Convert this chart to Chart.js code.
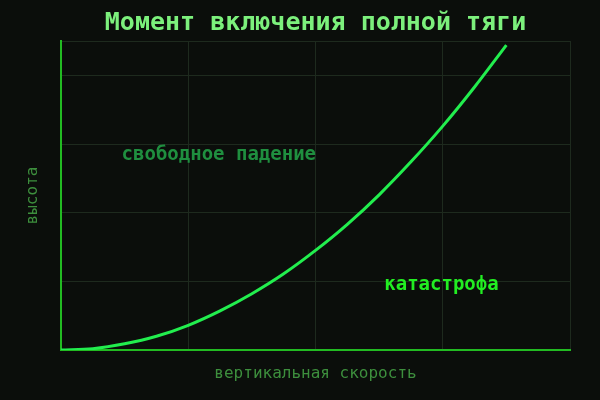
<!DOCTYPE html>
<html>
<head>
<meta charset="utf-8">
<script src="https://cdn.jsdelivr.net/npm/chart.js@4"></script>
<style>
  html, body { margin: 0; padding: 0; background: #0b0e0b; }
  #wrap { width: 600px; height: 400px; }
</style>
</head>
<body>
<div id="wrap"><canvas id="chart" width="600" height="400"></canvas></div>
<script>
// скорость (условные единицы) и высота
const speed  = [0, 0.25, 0.5, 0.75, 1, 1.25, 1.5, 1.75, 2, 2.25, 2.5, 2.75, 3, 3.25, 3.5];
const height = [0, 0.02, 0.09, 0.20, 0.36, 0.57, 0.82, 1.11, 1.45, 1.83, 2.26, 2.74, 3.26, 3.83, 4.44];

// подписи зон
const zoneLabels = ["свободное падение", "катастрофа"];
const zoneX = [1.24, 2.99];
const zoneY = [2.84, 0.95];
const zoneColors = ["#1f8f3f", "#22ee22"];

const mono = "'DejaVu Sans Mono', 'Liberation Mono', monospace";

const zonePlugin = {
  id: "zones",
  afterDatasetsDraw(chart) {
    const ctx = chart.ctx;
    const xs = chart.scales.x, ys = chart.scales.y;
    ctx.save();
    ctx.font = "bold 19px " + mono;
    ctx.textAlign = "center";
    ctx.textBaseline = "middle";
    for (let i = 0; i < zoneLabels.length; i++) {
      ctx.fillStyle = zoneColors[i];
      ctx.fillText(zoneLabels[i], xs.getPixelForValue(zoneX[i]), ys.getPixelForValue(zoneY[i]));
    }
    ctx.restore();
  }
};

const bgPlugin = {
  id: "bg",
  beforeDraw(chart) {
    const ctx = chart.ctx;
    ctx.save();
    ctx.fillStyle = "#0b0e0b";
    ctx.fillRect(0, 0, chart.width, chart.height);
    ctx.restore();
  }
};

const points = speed.map((v, i) => ({ x: v, y: height[i] }));

new Chart(document.getElementById("chart"), {
  type: "line",
  data: {
    datasets: [{
      data: points,
      borderColor: "#22ee4e",
      borderWidth: 3,
      pointRadius: 0,
      cubicInterpolationMode: "monotone",
      fill: false
    }]
  },
  options: {
    responsive: false,
    animation: false,
    layout: { padding: { left: 0, right: 30, top: 0, bottom: 0 } },
    plugins: {
      legend: { display: false },
      tooltip: { enabled: false },
      title: {
        display: true,
        text: "Момент включения полной тяги",
        color: "#7cf07c",
        fullSize: false,
        font: { family: mono, size: 25, weight: "bold" },
        padding: { top: 8, bottom: 3 }
      }
    },
    scales: {
      x: {
        type: "linear",
        min: 0,
        max: 4,
        ticks: { display: false, stepSize: 1 },
        grid: { color: "#1e2a1e", lineWidth: 1, drawTicks: false },
        border: { color: "#22bb22", width: 2 },
        title: {
          display: true,
          text: "вертикальная скорость",
          color: "#3d8f3d",
          font: { family: mono, size: 16 },
          padding: { top: 17, bottom: 17 }
        },
        afterFit(scale) { scale.height = 50; }
      },
      y: {
        min: 0,
        max: 4.5,
        ticks: { display: false, stepSize: 1 },
        grid: { color: "#1e2a1e", lineWidth: 1, drawTicks: false },
        border: { color: "#22bb22", width: 2 },
        title: {
          display: true,
          text: "высота",
          color: "#3d8f3d",
          font: { family: mono, size: 16 },
          padding: { top: 23, bottom: 23 }
        },
        afterFit(scale) { scale.width = 61; }
      }
    }
  },
  plugins: [bgPlugin, zonePlugin]
});
</script>
</body>
</html>
